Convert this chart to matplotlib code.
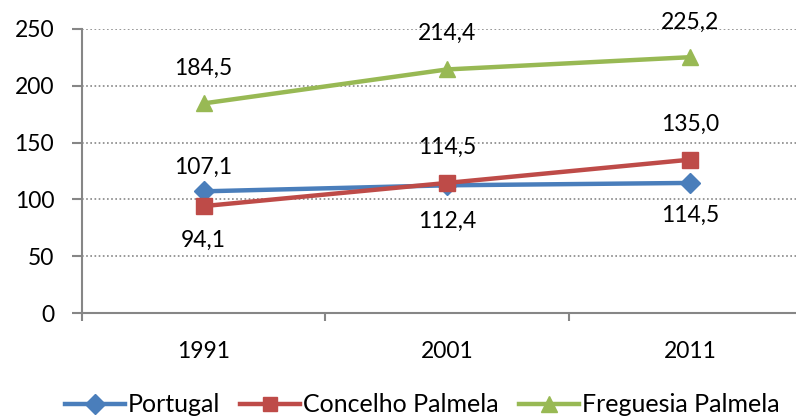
import matplotlib
matplotlib.use("Agg")
import matplotlib.pyplot as plt

years = ["1991", "2001", "2011"]
portugal = [107.1, 112.4, 114.5]
concelho = [94.1, 114.5, 135.0]
freguesia = [184.5, 214.4, 225.2]
series_names = ["Portugal", "Concelho Palmela", "Freguesia Palmela"]
yticks = [0, 50, 100, 150, 200, 250]

plt.rcParams['font.family'] = ['Lato', 'DejaVu Sans']

fig = plt.figure(figsize=(7.96, 4.17), dpi=100)
ax = fig.add_axes([82/796, 104/417, 730/796, 284/417])

x = list(range(len(years)))
colors = ["#4A7EBB", "#BE4B48", "#98B954"]
markers = ["D", "s", "^"]
msizes = [10.5, 11, 12]
data = [portugal, concelho, freguesia]
# label offsets in pixels, positive = above
offsets = [[24, -36, -32], [-34, 36, 35], [35, 36, 35]]

lines = []
for vals, c, m, ms, name, offs in zip(data, colors, markers, msizes, series_names, offsets):
    ln, = ax.plot(x, vals, color=c, lw=3.2, marker=m, ms=ms, mec=c, mfc=c,
                  label=name, zorder=3, clip_on=False)
    lines.append(ln)
    for xi, v, o in zip(x, vals, offs):
        ax.annotate(f"{v:.1f}".replace(".", ","), (xi, v),
                    xytext=(0, o * 0.72), textcoords="offset points",
                    ha="center", va="center", fontsize=16.5, color="#000000")

ax.set_xlim(-0.5, 2.5)
ax.set_ylim(0, 250)
ax.set_yticks(yticks)
ax.set_yticklabels([str(t) for t in yticks], fontsize=16.5)
ax.set_xticks(x)
ax.set_xticklabels(years, fontsize=16.5)
ax.tick_params(axis='x', length=0, pad=20)
ax.set_xticks([-0.5, 0.5, 1.5, 2.5], minor=True)
ax.tick_params(axis='x', which='minor', length=6, color="#868686", width=1.5)
ax.tick_params(axis='y', length=7, color="#868686", width=1.5, pad=13)

for t in yticks[1:]:
    ax.axhline(t, color="#868686", lw=1.2, ls=(0, (1, 1.5)), zorder=1)

for s in ["top", "right"]:
    ax.spines[s].set_visible(False)
for s in ["left", "bottom"]:
    ax.spines[s].set_color("#868686")
    ax.spines[s].set_linewidth(1.5)

fig.legend(handles=lines, loc="center", bbox_to_anchor=(0.53, 12/417),
           ncol=3, frameon=False, fontsize=18, handlelength=2.4,
           handletextpad=0.12, columnspacing=0.8, markerscale=0.95,
           borderaxespad=0, borderpad=0)

fig.savefig("out.png", dpi=100)
